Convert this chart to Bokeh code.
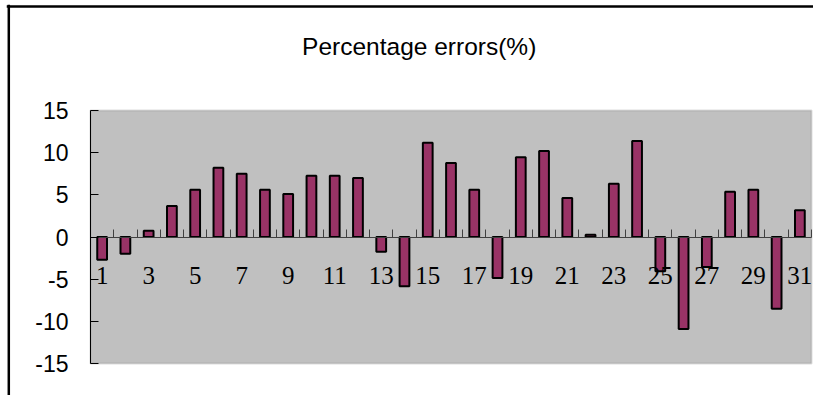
from bokeh.plotting import figure
from bokeh.models import Range1d, FixedTicker, LinearAxis, Label, BoxAnnotation, Span
from bokeh.embed import file_html
from bokeh.resources import INLINE

days = list(range(1, 32))
errors = [-2.7, -2.0, 0.75, 3.67, 5.6, 8.2, 7.5, 5.6, 5.1, 7.26, 7.26, 7.0, -1.74, -5.84,
          11.17, 8.76, 5.6, -4.86, 9.47, 10.2, 4.62, 0.28, 6.3, 11.37, -4.07, -10.9,
          -3.55, 5.37, 5.6, -8.5, 3.16]
x_labels = list(range(1, 32, 2))
x_bounds = [i + 0.5 for i in range(0, 32)]
y_ticks = [-15, -10, -5, 0, 5, 10, 15]
y_tick_labels = {t: str(t) for t in y_ticks}
title_text = "Percentage errors(%)"

X_MIN, X_MAX = 0.5, 31.5
Y_MIN, Y_MAX = -15, 15

# pixel layout (canvas) -> data ranges so the frame spans the chart box
px_x = (811 - 90) / (X_MAX - X_MIN)
px_y = (363 - 110) / (Y_MAX - Y_MIN)
fl, fr, ft, fb = 6, 813, 4, 395
x_lo = X_MIN - (90 - fl) / px_x
x_hi = X_MAX + (fr - 811) / px_x
y_hi = Y_MAX + (110 - ft) / px_y
y_lo = Y_MIN - (fb - 363) / px_y

p = figure(width=813, height=395, output_backend="svg", toolbar_location=None,
           x_range=Range1d(x_lo, x_hi), y_range=Range1d(y_lo, y_hi),
           x_axis_type=None, y_axis_type=None,
           min_border_left=fl, min_border_right=813 - fr, min_border_top=ft,
           min_border_bottom=395 - fb)
p.background_fill_color = "white"
p.border_fill_color = "white"
p.outline_line_color = None
p.xgrid.visible = False
p.ygrid.visible = False

# plot area
p.add_layout(BoxAnnotation(left=X_MIN, right=X_MAX, bottom=Y_MIN, top=Y_MAX,
                           fill_color="#C0C0C0", fill_alpha=1,
                           line_color="#8C8C8C", line_width=2, level="underlay"))

# outer chart frame (top and left edges visible)
p.add_layout(Span(location=X_MIN - (90 - 8.3) / px_x, dimension="height",
                  line_color="black", line_width=2.5))
p.add_layout(Span(location=Y_MAX + (110 - 6) / px_y, dimension="width",
                  line_color="black", line_width=2.5))

yax = LinearAxis(ticker=FixedTicker(ticks=y_ticks), major_label_overrides=y_tick_labels,
                 fixed_location=X_MIN, bounds=(Y_MIN, Y_MAX))
yax.axis_line_color = "black"
yax.major_tick_in = 8
yax.major_tick_out = 0
yax.minor_tick_line_color = None
yax.major_label_text_font = "Liberation Sans"
yax.major_label_text_font_size = "23px"
yax.major_label_text_color = "black"
yax.major_label_standoff = 22
p.add_layout(yax, "left")

xax = LinearAxis(ticker=FixedTicker(ticks=x_labels, minor_ticks=x_bounds),
                 fixed_location=0, bounds=(X_MIN, X_MAX))
xax.axis_line_color = "#404040"
xax.major_tick_in = 0
xax.major_tick_out = 0
xax.minor_tick_in = 8
xax.minor_tick_out = 0
xax.minor_tick_line_color = "#404040"
xax.major_label_text_font = "Liberation Serif"
xax.major_label_text_font_size = "25px"
xax.major_label_text_color = "black"
xax.major_label_standoff = 30
p.add_layout(xax, "below")

p.vbar(x=days, top=errors, bottom=0, width=0.42, fill_color="#993366",
       line_color="black", line_width=2)

p.add_layout(Label(x=X_MIN + (418.7 - 90) / px_x, y=Y_MAX + (110 - 46) / px_y,
                   text=title_text, text_align="center", text_baseline="alphabetic",
                   text_font="Liberation Sans", text_font_size="24.5px", text_color="black"))

open("out.html", "w").write(file_html(p, INLINE))
